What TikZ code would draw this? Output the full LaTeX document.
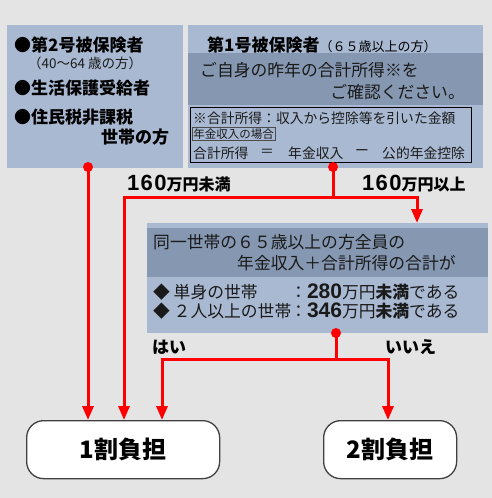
\documentclass[tikz,border=0pt]{standalone}
\usepackage{fontspec}
\setmainfont{Noto Sans CJK JP}
\newfontfamily\latn{Liberation Sans}
\newfontfamily\latnw{Liberation Sans}[LetterSpace=6]
\usetikzlibrary{arrows.meta}
\definecolor{bgc}{HTML}{E4E4E4}
\definecolor{boxc}{HTML}{A9B9D2}
\definecolor{bandc}{HTML}{8597B1}
\definecolor{txt}{HTML}{1A1A1A}
\definecolor{rd}{HTML}{FF0000}
\begin{document}
\begin{tikzpicture}[x=1pt,y=-1pt,
 panel/.style={rectangle, anchor=north west, inner sep=0pt, outer sep=0pt, fill=boxc},
 band/.style={rectangle, anchor=north west, inner sep=0pt, outer sep=0pt, fill=bandc},
 t/.style={anchor=west, inner sep=0pt, text=txt, font=\fontsize{16.8}{18}\selectfont},
 tb/.style={anchor=west, inner sep=0pt, text=black, font=\fontsize{17}{18}\selectfont\bfseries},
 ts/.style={anchor=west, inner sep=0pt, text=txt, font=\fontsize{13.8}{15}\selectfont},
 rline/.style={draw=rd, line width=3pt},
 rarrow/.style={rline, -{Triangle[length=14pt,width=11pt]}},
 dot/.style={circle, fill=rd, inner sep=0pt, minimum size=10pt},
 result/.style={rectangle, rounded corners=17pt, draw=black!75, line width=1.3pt, fill=white,
   anchor=north west, inner sep=0pt, font=\fontsize{24}{26}\selectfont\bfseries}
]
% background
\fill[bgc] (0,0) rectangle (492,498);
\useasboundingbox (0,0) rectangle (492,498);

% left panel
\node[panel, minimum width=176pt, minimum height=143pt] (L) at (7,25) {};
\node[tb] (l1) at (14,45) {●第2号被保険者};
\node[t, font=\fontsize{13.5}{15}\selectfont] (l2) at (28,63) {（40～64 歳の方）};
\node[tb] (l3) at (14,88) {●生活保護受給者};
\node[tb] (l4) at (14,117) {●住民税非課税};
\node[tb] (l5) at (101,137) {世帯の方};

% right top panel
\node[panel, minimum width=295pt, minimum height=143pt] (R) at (188,25) {};
\node[band, minimum width=295pt, minimum height=52pt] (Rb) at (188,53) {};
\node[tb] (r1) at (207,45) {第1号被保険者{\mdseries\fontsize{13}{15}\selectfont （６５歳以上の方）}};
\node[t] (r2) at (200,70) {ご自身の昨年の合計所得※を};
\node[t, anchor=east] (r3) at (465,92) {ご確認ください。};
\node[draw=black, line width=0.8pt, anchor=north west, minimum width=281pt, minimum height=55pt, inner sep=0pt] (note) at (190,107) {};
\node[ts] (n1) at (193,118) {※合計所得：収入から控除等を引いた金額};
\node[ts, font=\fontsize{11.5}{13}\selectfont, draw=black!70, line width=0.6pt, inner sep=1pt] (n2) at (192,134) {年金収入の場合};
\node[ts] (n3) at (193,153) {合計所得};
\node[ts, anchor=center] (n4) at (267,153) {＝};
\node[ts] (n5) at (288,153) {年金収入};
\node[ts, anchor=center] (n6) at (362,153) {ー};
\node[ts] (n7) at (382,153) {公的年金控除};

% middle panel
\node[panel, minimum width=341pt, minimum height=110pt] (M) at (147,223) {};
\node[band, minimum width=341pt, minimum height=49pt] (Mb) at (147,228) {};
\node[t] (m1) at (153,242) {同一世帯の６５歳以上の方全員の};
\node[t] (m2) at (237,263) {年金収入＋合計所得の合計が};
\node[t] (m3) at (153,292) {◆ 単身の世帯};
\node[t] (m4) at (290,292) {：{\latn\bfseries\fontsize{21}{22}\selectfont 280}万円\textbf{未満}である};
\node[t] (m5) at (153,311) {◆ ２人以上の世帯};
\node[t] (m6) at (290,311) {：{\latn\bfseries\fontsize{21}{22}\selectfont 346}万円\textbf{未満}である};

% labels
\node[tb, font=\fontsize{16}{18}\selectfont\bfseries] (a1) at (127,184) {{\latnw\bfseries\fontsize{22}{22}\selectfont 160}万円未満};
\node[tb, font=\fontsize{16}{18}\selectfont\bfseries] (a2) at (362,184) {{\latnw\bfseries\fontsize{22}{22}\selectfont 160}万円以上};
\node[tb] (y) at (152,347) {はい};
\node[tb] (n) at (385,347) {いいえ};

% results
\node[result, minimum width=193pt, minimum height=58pt] (B1) at (26,420) {1割負担};
\node[result, minimum width=133pt, minimum height=58pt] (B2) at (323,420) {2割負担};

% connectors
\node[dot] (d1) at (88,167) {};
\node[dot] (d2) at (333,167) {};
\node[dot] (d3) at (336,333) {};
\coordinate (j1) at (333,197);
\coordinate (jl) at (124,197);
\coordinate (jr) at (417,197);
\coordinate (j2) at (336,359);
\coordinate (jy) at (162,359);
\coordinate (jn) at (388,359);

\draw[rarrow] (d1.center) -- (d1 |- B1.north);
\draw[rline] (d2.center) -- (j1);
\draw[rarrow] (j1) -- (jl) -- (jl |- B1.north);
\draw[rarrow] (j1) -- (jr) -- (jr |- M.north);
\draw[rline] (d3.center) -- (j2);
\draw[rarrow] (j2) -- (jy) -- (jy |- B1.north);
\draw[rarrow] (j2) -- (jn) -- (jn |- B2.north);
\end{tikzpicture}
\end{document}
